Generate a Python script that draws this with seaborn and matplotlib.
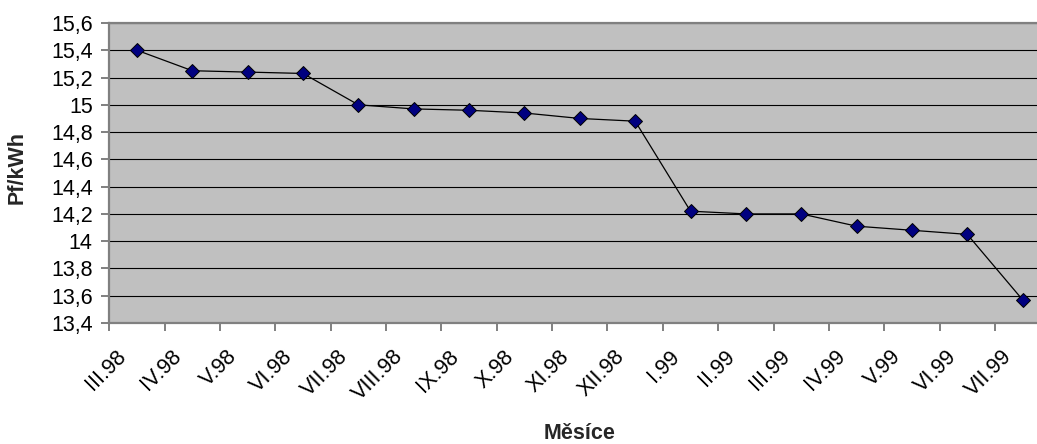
import pandas as pd
import seaborn as sns
import matplotlib.pyplot as plt
from matplotlib.ticker import FuncFormatter, FixedLocator
from matplotlib.transforms import ScaledTranslation

# monthly price data
months = ['III.98', 'IV.98', 'V.98', 'VI.98', 'VII.98', 'VIII.98', 'IX.98',
          'X.98', 'XI.98', 'XII.98', 'I.99', 'II.99', 'III.99', 'IV.99',
          'V.99', 'VI.99', 'VII.99']
price = [15.40, 15.25, 15.24, 15.23, 15.00, 14.97, 14.96, 14.94, 14.90,
         14.88, 14.22, 14.20, 14.20, 14.11, 14.08, 14.05, 13.57]
y_ticks = [13.4, 13.6, 13.8, 14.0, 14.2, 14.4, 14.6, 14.8, 15.0, 15.2, 15.4, 15.6]

df = pd.DataFrame({'Měsíce': months, 'Pf/kWh': price})

sns.set_theme(style='white')
plt.rcParams['font.family'] = ['Liberation Sans', 'DejaVu Sans']

fig = plt.figure(figsize=(10.37, 4.44), dpi=100)
# plot area runs a little past the right edge, as in the original
ax = fig.add_axes([109.3 / 1037, 121 / 444, 941 / 1037, 300 / 444])
ax.set_facecolor('#c0c0c0')

sns.lineplot(data=df, x='Měsíce', y='Pf/kWh', sort=False, ax=ax,
             color='black', linewidth=0.9, marker='D', markersize=7,
             markerfacecolor='#000080', markeredgecolor='black',
             markeredgewidth=0.7, zorder=5)

ax.set_xlim(-0.5, len(months) - 0.5)
ax.set_ylim(13.4, 15.6)

# horizontal grid
ax.yaxis.set_major_locator(FixedLocator(y_ticks))
ax.yaxis.set_major_formatter(FuncFormatter(lambda v, p: f'{v:g}'.replace('.', ',')))
ax.grid(axis='y', color='black', linewidth=0.8)
ax.set_axisbelow(True)

for s in ['left', 'bottom', 'top']:
    ax.spines[s].set_color('#808080')
    ax.spines[s].set_linewidth(1.6)
ax.spines['right'].set_visible(False)

ax.tick_params(axis='y', which='major', direction='out', length=6, width=1.4,
               color='#808080', pad=6, labelsize=15.5, labelcolor='black', left=True)

# category boundaries get the tick marks, labels sit at the centers
ax.set_xticks(range(len(months)))
ax.set_xticks([i - 0.5 for i in range(len(months) + 1)], minor=True)
ax.tick_params(axis='x', which='minor', direction='out', length=6, width=1.4,
               color='#808080', bottom=True)
ax.tick_params(axis='x', which='major', length=0, pad=22, labelsize=15.5,
               labelcolor='black', bottom=True)
ax.set_xticklabels(months, rotation=45, ha='right', va='center',
                   rotation_mode='anchor')
off = ScaledTranslation(-14 / 100, 0, fig.dpi_scale_trans)
for lab in ax.get_xticklabels():
    lab.set_transform(lab.get_transform() + off)

ax.set_xlabel('Měsíce', fontsize=15.5, fontweight='bold')
ax.xaxis.set_label_coords(470 / 941, -100 / 300)
ax.set_ylabel('Pf/kWh', fontsize=15.5, fontweight='bold')
ax.yaxis.set_label_coords(-82 / 941, 155 / 300)

fig.savefig('out.png', dpi=100)
